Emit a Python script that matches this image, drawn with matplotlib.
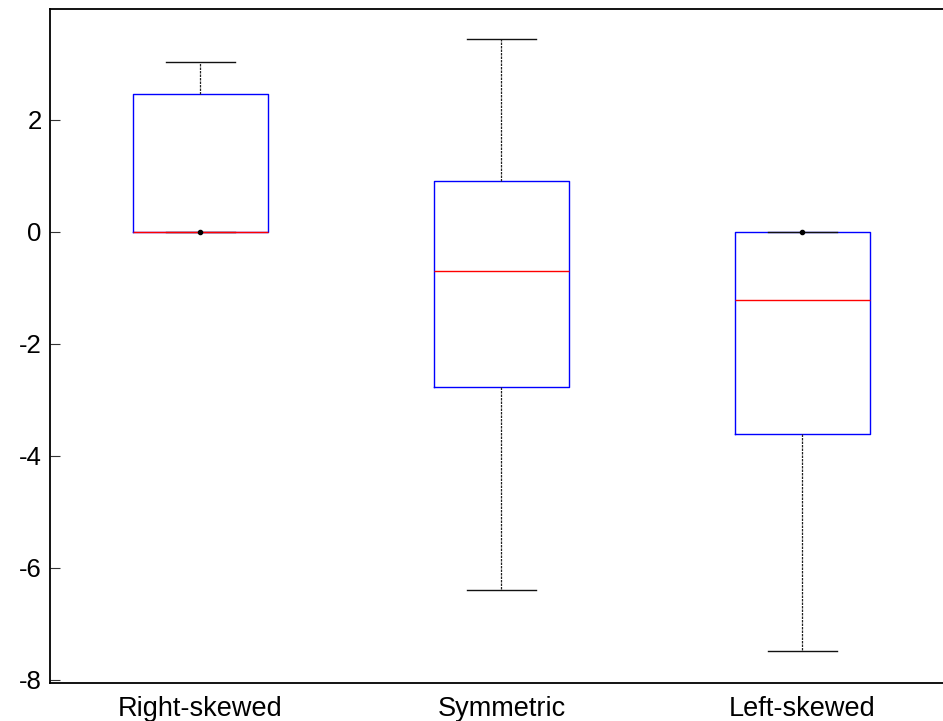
import matplotlib
matplotlib.use("Agg")
import matplotlib.pyplot as plt

# Five-number summaries for three distributions
categories = ["Right-skewed", "Symmetric", "Left-skewed"]
whisker_low = [0.0, -6.40, -7.48]
q1 = [0.0, -2.77, -3.61]
median = [0.0, -0.69, -1.21]
q3 = [2.47, 0.90, 0.0]
whisker_high = [3.03, 3.44, 0.0]
ytick_values = [2, 0, -2, -4, -6, -8]

plt.rcParams["font.family"] = ["Liberation Sans", "DejaVu Sans"]

fig = plt.figure(figsize=(9.43, 7.21), dpi=100)
ax = fig.add_axes([50 / 943, 37.7 / 721, 903 / 943, 674.3 / 721])

stats = []
for lab, lo, a, m, b, hi in zip(categories, whisker_low, q1, median, q3, whisker_high):
    stats.append(dict(label=lab, whislo=lo, q1=a, med=m, q3=b, whishi=hi, fliers=[]))

positions = [1, 2, 3]
ax.bxp(
    stats,
    positions=positions,
    widths=0.45,
    capwidths=0.226,
    showfliers=False,
    boxprops=dict(color="#0000ff", linewidth=1.0),
    medianprops=dict(color="#ff0000", linewidth=1.0),
    whiskerprops=dict(color="#222222", linewidth=0.9, linestyle=(0, (2.0, 0.8))),
    capprops=dict(color="#111111", linewidth=1.0),
)

# A dot marks a whisker that collapses onto the box edge
for p, lo, a, b, hi in zip(positions, whisker_low, q1, q3, whisker_high):
    if lo == a:
        ax.plot([p], [lo], "o", color="black", markersize=3.0, zorder=5)
    if hi == b:
        ax.plot([p], [hi], "o", color="black", markersize=3.0, zorder=5)

ax.set_xlim(0.5, 3.5)
ax.set_ylim(-8.06, 3.98)
ax.set_yticks(ytick_values)
ax.set_yticklabels([str(v) for v in ytick_values])
ax.set_xticks(positions)
ax.set_xticklabels(categories)

ax.tick_params(axis="y", direction="in", length=7, width=0.8, pad=6,
               labelsize=18.5, color="#333333")
ax.tick_params(axis="x", length=0, pad=9, labelsize=19.5)

for side in ("top", "left", "bottom", "right"):
    ax.spines[side].set_linewidth(1.3)
    ax.spines[side].set_color("black")

fig.savefig("out.png", dpi=100)
